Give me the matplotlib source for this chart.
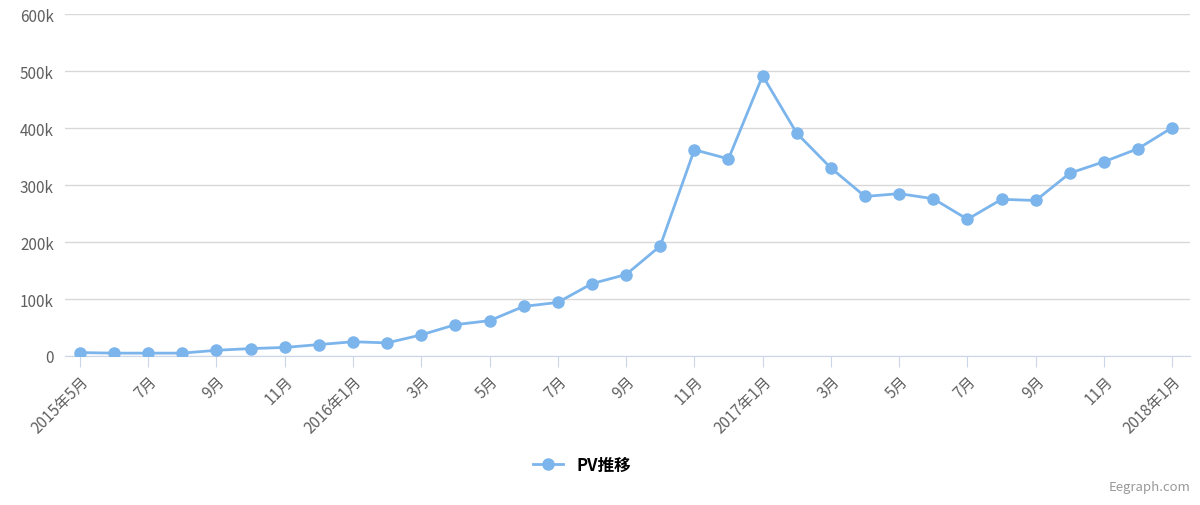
import matplotlib
matplotlib.use("Agg")
import matplotlib.pyplot as plt

plt.rcParams['font.family'] = ['Noto Sans CJK JP', 'DejaVu Sans']

months = ["2015年5月","6月","7月","8月","9月","10月","11月","12月",
          "2016年1月","2月","3月","4月","5月","6月","7月","8月","9月","10月","11月","12月",
          "2017年1月","2月","3月","4月","5月","6月","7月","8月","9月","10月","11月","12月",
          "2018年1月"]
pv = [6000,5000,5000,5000,10000,13000,15000,20000,25000,23000,37000,55000,62000,87000,94000,
      127000,143000,193000,362000,346000,492000,391000,330000,280000,285000,276000,240000,
      275000,273000,321000,341000,364000,401000]
yticks = [0,100000,200000,300000,400000,500000,600000]
ylabels = ["0","100k","200k","300k","400k","500k","600k"]

fig = plt.figure(figsize=(12,5.06), dpi=100)
ax = fig.add_axes([0.054,0.2945,0.938,0.6755])
c = "#7cb5ec"
x = list(range(len(pv)))
ax.plot(x, pv, color=c, lw=2, marker='o', ms=8, label="PV推移", zorder=3)
ax.set_xlim(-0.44, 32.53)
ax.set_ylim(0, 600000)
ax.set_yticks(yticks)
ax.set_yticklabels(ylabels, fontsize=11, color="#606060")
ax.yaxis.grid(True, color="#d8d8d8", lw=1)
ax.set_axisbelow(True)
ticks = x[::2]
ax.set_xticks(ticks)
ax.set_xticklabels([months[i] for i in ticks], rotation=45, ha='right', rotation_mode='anchor',
                   fontsize=11, color="#606060")
ax.tick_params(axis='x', length=8, color="#ccd6eb", pad=4)
ax.tick_params(axis='y', length=0, pad=8)
for s in ['top','right','left']:
    ax.spines[s].set_visible(False)
ax.spines['bottom'].set_color("#ccd6eb")
leg = fig.legend(loc='center', bbox_to_anchor=(0.485,0.08), frameon=False,
                 prop={'size':12,'weight':'bold'}, handlelength=1.8)
fig.text(0.992,0.03,"Eegraph.com", ha='right', fontsize=9.5, color="#999999")
fig.savefig("out.png", dpi=100)
